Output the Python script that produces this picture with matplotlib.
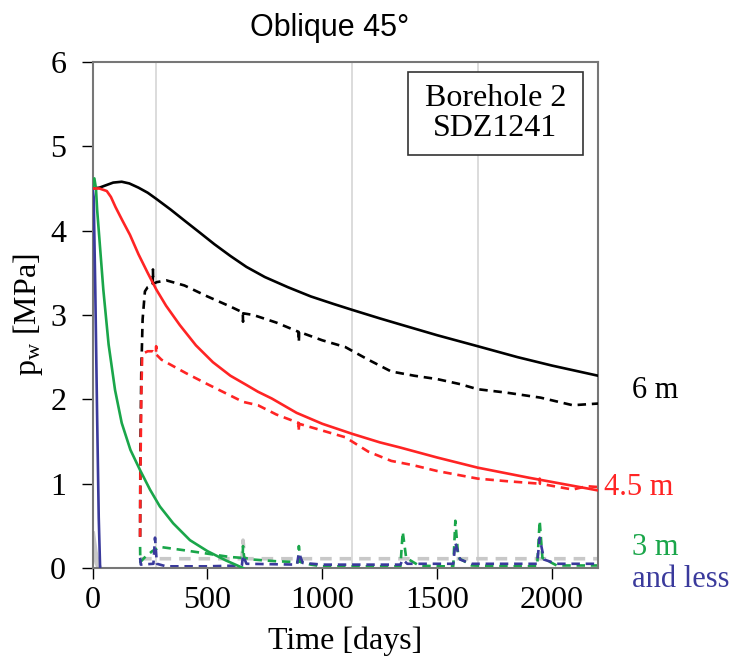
import matplotlib
matplotlib.use("Agg")
import matplotlib.pyplot as plt
from matplotlib.patches import Rectangle

plt.rcParams['font.family'] = ['Liberation Serif', 'DejaVu Serif']
plt.rcParams['mathtext.fontset'] = 'custom'
plt.rcParams['mathtext.rm'] = 'Liberation Serif'
plt.rcParams['mathtext.it'] = 'Liberation Serif:italic'

# ---- data (time in days, pressure in MPa) ----
t_6m_solid = [0, 30, 60, 90, 127, 160, 200, 240, 276, 340, 400, 470, 530, 600, 670, 750, 850, 950, 1050, 1131, 1250, 1337, 1500, 1676, 1850, 2000, 2200]
p_6m_solid = [4.50, 4.51, 4.54, 4.57, 4.58, 4.56, 4.51, 4.45, 4.38, 4.25, 4.12, 3.97, 3.84, 3.70, 3.57, 3.45, 3.33, 3.22, 3.13, 3.06, 2.96, 2.89, 2.76, 2.63, 2.50, 2.40, 2.28]

t_6m_dash = [207, 208, 212, 218, 228, 240, 255, 262, 263, 264, 280, 322, 400, 500, 600, 654, 655, 656, 700, 800, 897, 898, 899, 1000, 1100, 1200, 1300, 1400, 1500, 1600, 1676, 1800, 1950, 2090, 2200]
p_6m_dash = [0.37, 1.20, 2.30, 2.95, 3.28, 3.33, 3.35, 3.36, 3.54, 3.37, 3.39, 3.41, 3.35, 3.22, 3.10, 3.03, 2.92, 3.02, 3.00, 2.91, 2.80, 2.68, 2.80, 2.70, 2.62, 2.47, 2.33, 2.28, 2.24, 2.18, 2.12, 2.08, 2.02, 1.93, 1.95]

t_45m_solid = [0, 30, 62, 80, 100, 130, 163, 200, 240, 278, 320, 380, 450, 524, 600, 670, 720, 780, 888, 1000, 1131, 1250, 1337, 1500, 1676, 1900, 2100, 2200]
p_45m_solid = [4.50, 4.50, 4.47, 4.40, 4.28, 4.12, 3.95, 3.72, 3.50, 3.30, 3.11, 2.88, 2.64, 2.44, 2.28, 2.17, 2.09, 2.01, 1.84, 1.71, 1.59, 1.49, 1.43, 1.31, 1.19, 1.07, 0.97, 0.92]

t_45m_dash = [207, 208, 212, 216, 225, 240, 262, 276, 277, 278, 300, 407, 500, 655, 720, 800, 897, 898, 899, 1000, 1100, 1200, 1300, 1394, 1500, 1676, 1800, 1945, 1946, 1947, 2090, 2150, 2200]
p_45m_dash = [0.37, 1.00, 2.00, 2.51, 2.55, 2.57, 2.57, 2.54, 2.63, 2.53, 2.47, 2.31, 2.18, 1.97, 1.93, 1.82, 1.72, 1.62, 1.71, 1.63, 1.55, 1.38, 1.27, 1.22, 1.15, 1.06, 1.03, 1.00, 1.06, 1.00, 0.93, 0.97, 0.96]

t_3m_solid = [0, 8, 15, 20, 30, 47, 70, 98, 127, 165, 207, 250, 293, 351, 424, 500, 580, 655]
p_3m_solid = [4.50, 4.62, 4.50, 4.25, 3.90, 3.30, 2.65, 2.11, 1.72, 1.40, 1.16, 0.93, 0.73, 0.53, 0.33, 0.20, 0.09, 0.0]

t_3m_dash = [207, 208, 225, 260, 293, 400, 500, 600, 653, 655, 660, 700, 800, 895, 898, 905, 950, 1000, 1200, 1340, 1350, 1365, 1420, 1500, 1570, 1579, 1592, 1650, 1800, 1935, 1946, 1958, 2020, 2200]
p_3m_dash = [0.25, 0.07, 0.12, 0.20, 0.25, 0.21, 0.17, 0.13, 0.12, 0.26, 0.12, 0.10, 0.08, 0.07, 0.26, 0.07, 0.04, 0.02, 0.02, 0.02, 0.43, 0.12, 0.03, 0.02, 0.02, 0.56, 0.12, 0.03, 0.02, 0.02, 0.56, 0.12, 0.03, 0.03]

t_blue_solid = [0, 5, 12, 20, 27, 33]
p_blue_solid = [4.50, 4.40, 3.30, 1.80, 0.60, 0.0]

t_blue_dash = [207, 210, 265, 272, 280, 320, 500, 650, 655, 670, 890, 898, 915, 1000, 1340, 1350, 1370, 1570, 1579, 1600, 1650, 1935, 1946, 1965, 2020, 2200]
p_blue_dash = [0.12, 0.04, 0.05, 0.36, 0.05, 0.02, 0.02, 0.03, 0.15, 0.05, 0.04, 0.18, 0.06, 0.04, 0.04, 0.10, 0.05, 0.05, 0.30, 0.10, 0.05, 0.05, 0.36, 0.10, 0.05, 0.05]

t_gray_dash = [207, 300, 650, 655, 662, 1000, 1500, 2000, 2200]
p_gray_dash = [0.11, 0.11, 0.11, 0.33, 0.11, 0.11, 0.11, 0.11, 0.11]

t_gray_solid = [0, 10, 20, 30]
p_gray_solid = [0.40, 0.20, 0.06, 0.0]

event_days = [276, 1131, 1676]

x_ticks = [0, 500, 1000, 1500, 2000]
y_ticks = [0, 1, 2, 3, 4, 5, 6]

BLACK = '#000000'
RED = '#ff2424'
GREEN = '#1aa64a'
BLUE = '#3a3a9c'
GRAY = '#c8c8c8'

fig = plt.figure(figsize=(7.48, 6.68), dpi=100)
ax = fig.add_axes([0.1237, 0.1497, 0.6758, 0.7575])

for d in event_days:
    ax.axvline(d, color='#d9d9d9', lw=1.3, zorder=0)

dash = (0, (3.2, 2.2))
lw = 1.9
ax.plot(t_gray_solid, p_gray_solid, color=GRAY, lw=4, zorder=1)
ax.plot(t_gray_dash, p_gray_dash, color=GRAY, lw=2.6, ls=dash, zorder=1)
ax.plot(t_3m_dash, p_3m_dash, color=GREEN, lw=lw, ls=dash, zorder=2)
ax.plot(t_blue_dash, p_blue_dash, color=BLUE, lw=lw, ls=dash, zorder=2)
ax.plot(t_6m_dash, p_6m_dash, color=BLACK, lw=lw, ls=dash, zorder=3)
ax.plot(t_45m_dash, p_45m_dash, color=RED, lw=lw, ls=dash, zorder=3)
ax.plot(t_6m_solid, p_6m_solid, color=BLACK, lw=lw, zorder=4)
ax.plot(t_3m_solid, p_3m_solid, color=GREEN, lw=lw, zorder=4)
ax.plot(t_blue_solid, p_blue_solid, color=BLUE, lw=lw, zorder=4)
ax.plot(t_45m_solid, p_45m_solid, color=RED, lw=lw, zorder=5)

ax.set_xlim(0, 2200)
ax.set_ylim(0, 6)
ax.set_xticks(x_ticks)
ax.set_yticks(y_ticks)
ax.tick_params(direction='out', length=8, width=1, labelsize=23)
ax.tick_params(axis='y', pad=11)
ax.tick_params(axis='x', pad=5)
for s in ax.spines.values():
    s.set_color('#777777')
    s.set_linewidth(1.5)

ax.set_xlabel('Time [days]', fontsize=23, labelpad=8)
ax.set_ylabel(r'p$_\mathrm{w}$ [MPa]', fontsize=23, labelpad=4)

ax.text(0.47, 1.037, 'Oblique 45°', transform=ax.transAxes, ha='center', va='bottom',
        fontsize=22, family=['Liberation Sans', 'DejaVu Sans'])

ax.add_patch(Rectangle((0.624, 0.816), 0.346, 0.164, transform=ax.transAxes,
                       fc='white', ec='#333333', lw=1.2, zorder=6))
ax.text(0.797, 0.898, 'Borehole 2\nSDZ1241', transform=ax.transAxes, ha='center', va='center',
        fontsize=23, linespacing=1.05, zorder=7)

yt = ax.get_yaxis_transform()
ax.text(1.067, 2.11, '6 m', transform=yt, fontsize=22, color=BLACK, va='center')
ax.text(1.012, 0.95, '4.5 m', transform=yt, fontsize=22, color=RED, va='center')
ax.text(1.067, 0.24, '3 m', transform=yt, fontsize=22, color=GREEN, va='center')
ax.text(1.067, -0.14, 'and less', transform=yt, fontsize=22, color=BLUE, va='center')

fig.savefig('out.png', dpi=100)
